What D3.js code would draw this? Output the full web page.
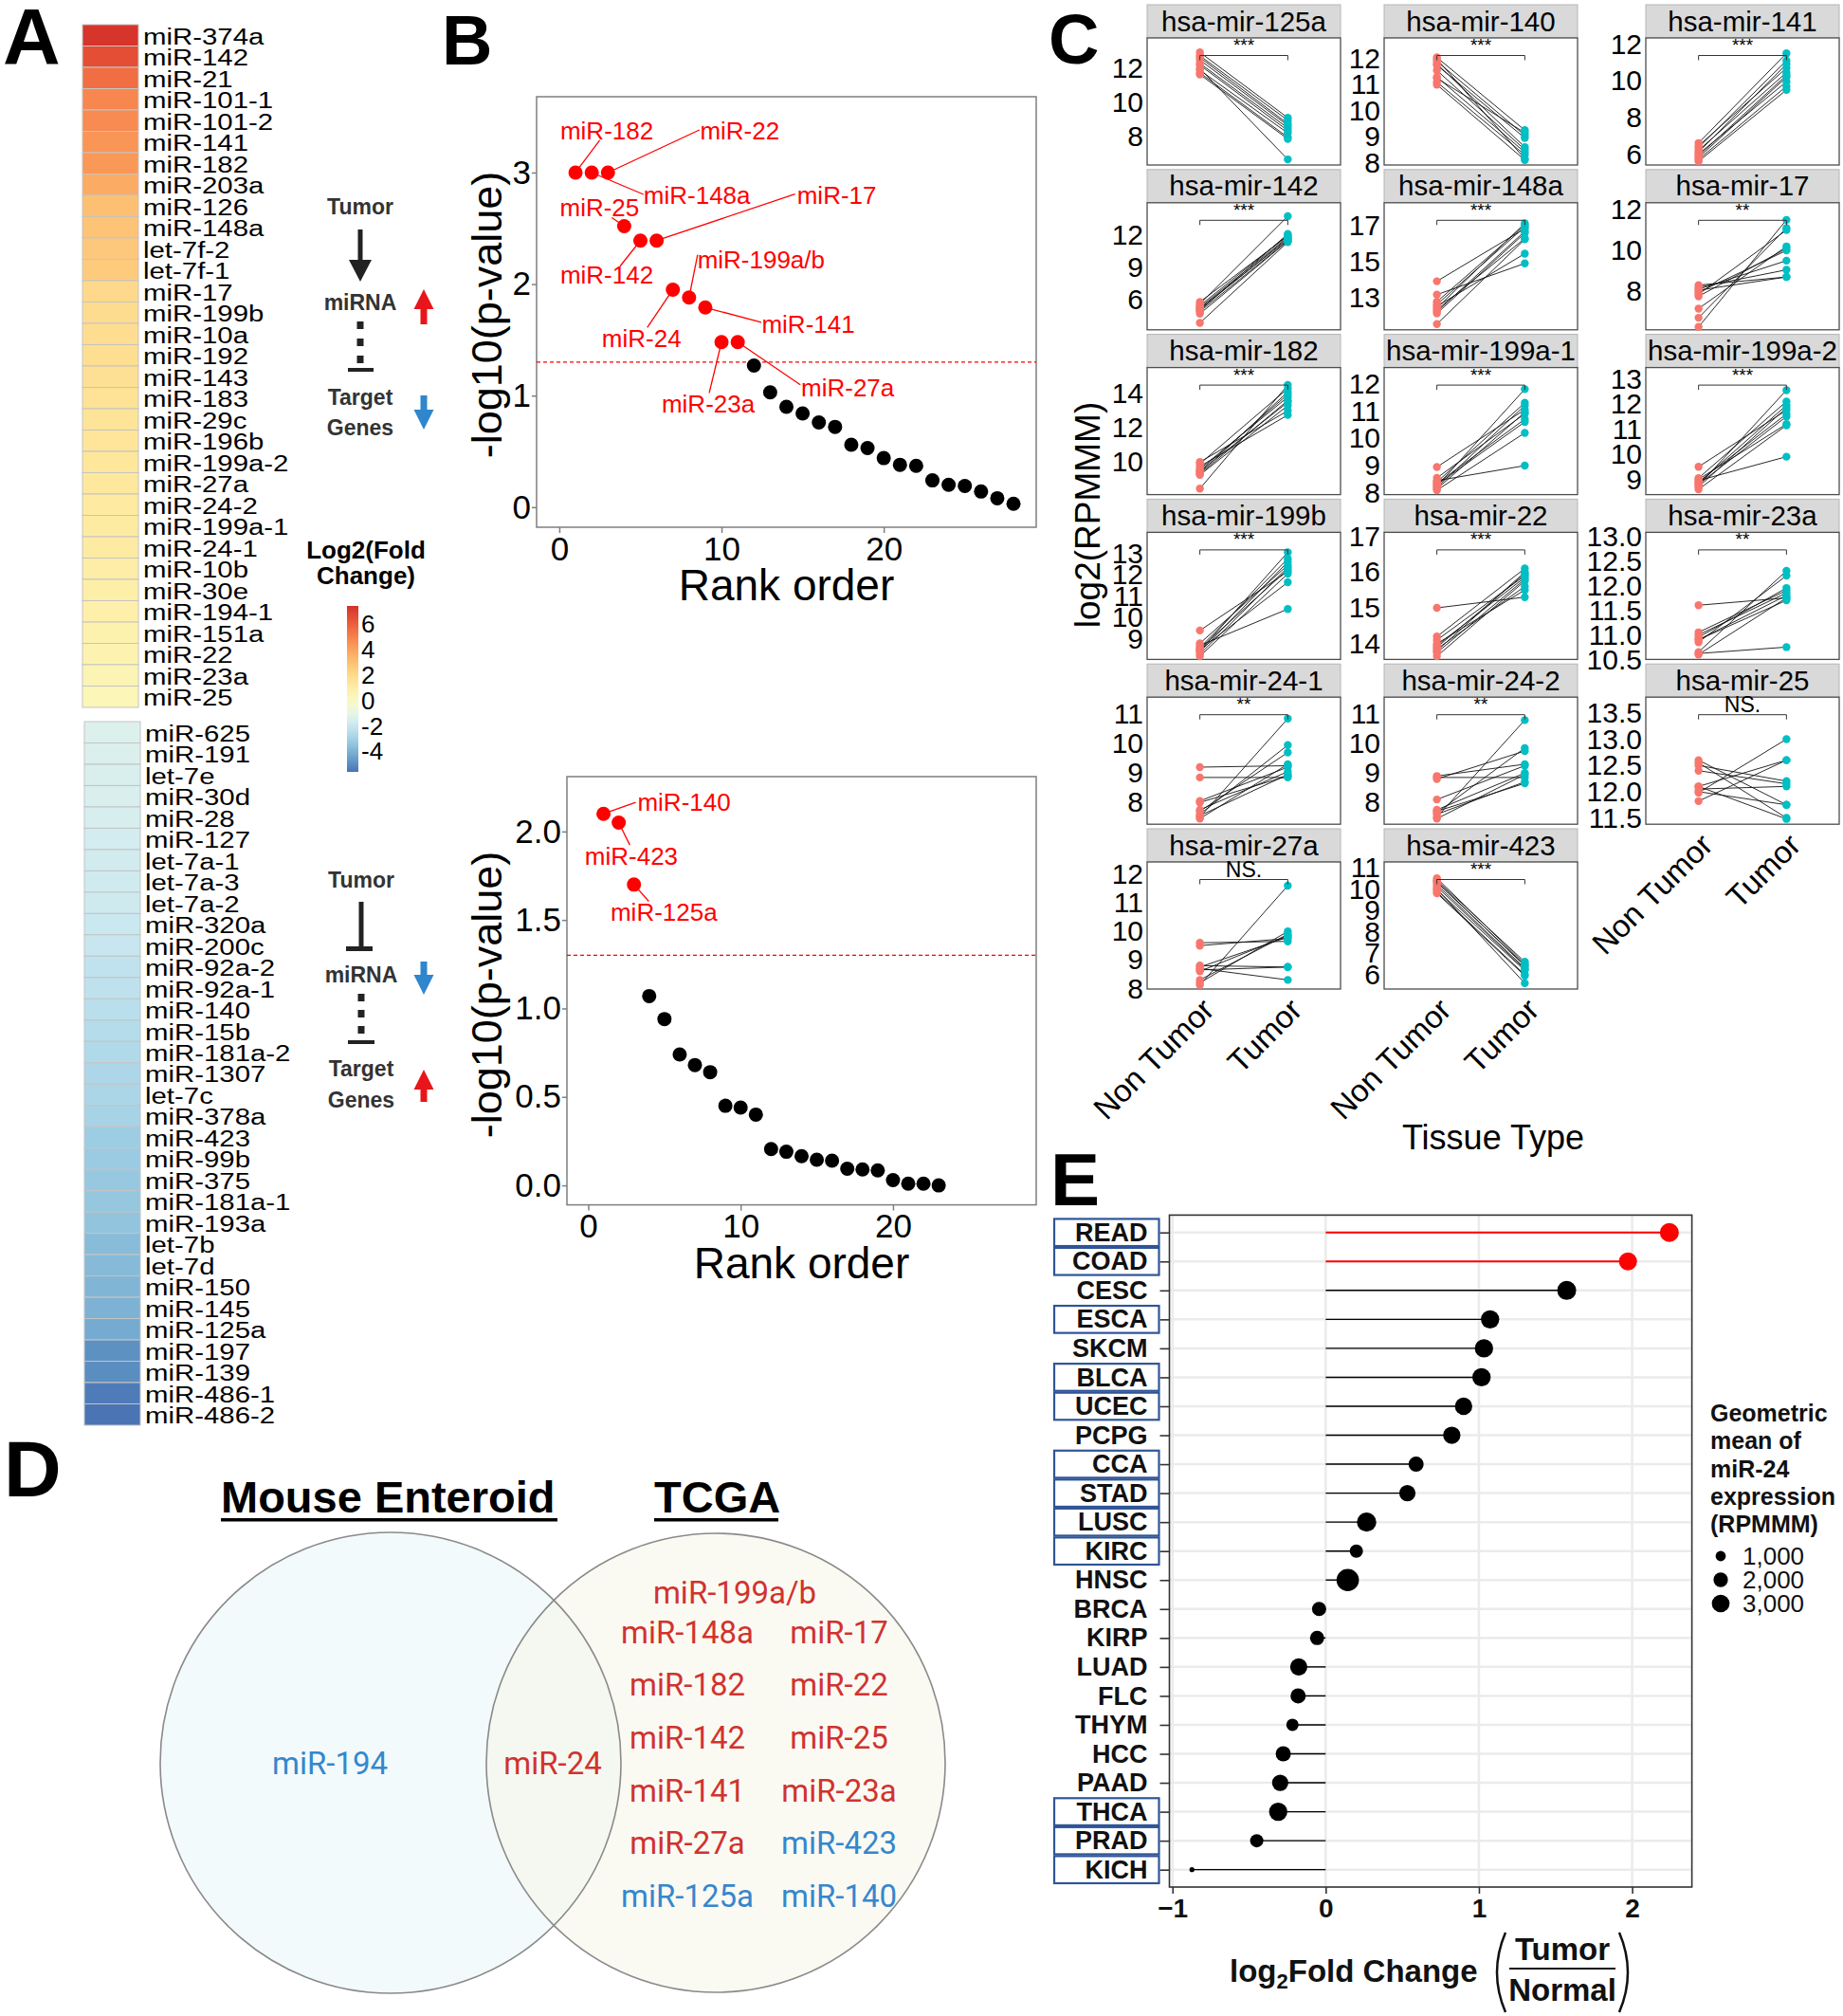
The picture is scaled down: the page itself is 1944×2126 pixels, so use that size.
<!DOCTYPE html>
<html><head><meta charset="utf-8">
<script src="https://cdn.jsdelivr.net/npm/d3@7"></script>
<style>body{margin:0;background:#fff}svg{display:block}</style>
</head><body>
<svg id="fig" width="1944" height="2126"></svg>
<script>
// ================= DATA =================
// Panel A heatmap
const heatUpLabels = ["miR-374a","miR-142","miR-21","miR-101-1","miR-101-2","miR-141","miR-182","miR-203a","miR-126","miR-148a","let-7f-2","let-7f-1","miR-17","miR-199b","miR-10a","miR-192","miR-143","miR-183","miR-29c","miR-196b","miR-199a-2","miR-27a","miR-24-2","miR-199a-1","miR-24-1","miR-10b","miR-30e","miR-194-1","miR-151a","miR-22","miR-23a","miR-25"];
const heatUpValues = [7.3,6.5,5.55,4.8,4.7,4.4,4.3,3.7,3.0,2.9,2.7,2.6,2.0,1.9,1.85,1.8,1.7,1.6,1.5,1.45,1.4,1.3,1.2,1.15,1.1,1.0,0.9,0.8,0.7,0.6,0.45,0.3];
const heatDownLabels = ["miR-625","miR-191","let-7e","miR-30d","miR-28","miR-127","let-7a-1","let-7a-3","let-7a-2","miR-320a","miR-200c","miR-92a-2","miR-92a-1","miR-140","miR-15b","miR-181a-2","miR-1307","let-7c","miR-378a","miR-423","miR-99b","miR-375","miR-181a-1","miR-193a","let-7b","let-7d","miR-150","miR-145","miR-125a","miR-197","miR-139","miR-486-1","miR-486-2"];
const heatDownValues = [-1.4,-1.45,-1.5,-1.55,-1.6,-1.7,-1.75,-1.8,-1.85,-1.95,-2.05,-2.25,-2.3,-2.4,-2.55,-2.65,-2.75,-2.8,-2.9,-3.15,-3.2,-3.3,-3.35,-3.45,-3.7,-3.75,-3.9,-4.0,-4.2,-4.9,-5.0,-5.4,-5.6];
const heatRange = [-5.6, 7.4];
const colorbarTicks = [6,4,2,0,-2,-4];

// Panel B rank plots
const rankUpValues = [3.0,3.0,3.0,2.52,2.39,2.39,1.95,1.88,1.79,1.48,1.48,1.27,1.03,0.90,0.84,0.76,0.72,0.56,0.53,0.44,0.38,0.37,0.24,0.20,0.19,0.14,0.08,0.03];
const rankUpLabels = ["miR-182","miR-148a","miR-22","miR-25","miR-142","miR-17","miR-24","miR-199a/b","miR-141","miR-23a","miR-27a"];
const rankDownValues = [2.10,2.05,1.70,1.07,0.94,0.74,0.68,0.64,0.45,0.44,0.40,0.205,0.19,0.165,0.145,0.14,0.094,0.09,0.085,0.03,0.01,0.01,0.0];
const rankDownLabels = ["miR-140","miR-423","miR-125a"];
const rankXTicks = [0,10,20];
const rankUpYTicks = [0,1,2,3];
const rankDownYTicks = [0,0.5,1.0,1.5,2.0];
const pThreshold = -Math.log10(0.05);

// Panel C paired plots
const tissueTypes = ["Non Tumor","Tumor"];
const pairedNames = ["hsa-mir-125a","hsa-mir-140","hsa-mir-141","hsa-mir-142","hsa-mir-148a","hsa-mir-17","hsa-mir-182","hsa-mir-199a-1","hsa-mir-199a-2","hsa-mir-199b","hsa-mir-22","hsa-mir-23a","hsa-mir-24-1","hsa-mir-24-2","hsa-mir-25","hsa-mir-27a","hsa-mir-423"];
const pairedSig = ["***","***","***","***","***","**","***","***","***","***","***","**","**","**","NS.","NS.","***"];
const pairedLimits = [[6.32,13.8],[7.91,12.8],[5.4,12.34],[3.21,15.0],[11.18,18.3],[6.11,12.34],[8.1,15.52],[7.94,12.59],[8.39,13.45],[8.05,13.98],[13.56,17.11],[10.5,13.08],[7.26,11.58],[7.26,11.58],[11.38,13.8],[7.98,12.43],[5.33,11.26]];
const pairedTicks = [[8,10,12],[8,9,10,11,12],[6,8,10,12],[6,9,12],[13,15,17],[8,10,12],[10,12,14],[8,9,10,11,12],[9,10,11,12,13],[9,10,11,12,13],[14,15,16,17],[10.5,11,11.5,12,12.5,13],[8,9,10,11],[8,9,10,11],[11.5,12,12.5,13,13.5],[8,9,10,11,12],[6,7,8,9,10,11]];
const pairedNonTumor = [
 [12.95,12.75,12.65,12.5,12.3,12.2,12.0,11.9,11.75,11.65],
 [12.05,11.98,11.9,11.8,11.75,11.55,11.3,11.25,11.1,11.0],
 [6.6,6.45,6.35,6.2,6.1,6.0,5.9,5.8,5.7,5.6],
 [5.8,5.6,5.45,5.3,5.2,5.1,5.0,4.9,4.7,3.85],
 [13.9,13.15,12.75,12.6,12.5,12.4,12.3,12.2,12.1,11.5],
 [8.3,8.2,8.1,8.05,7.95,7.85,7.75,7.15,6.7,6.25],
 [10.0,9.9,9.75,9.6,9.5,9.45,9.35,9.3,9.25,8.45],
 [8.95,8.55,8.45,8.4,8.35,8.3,8.25,8.2,8.15,8.1],
 [9.5,9.05,9.0,8.95,8.9,8.85,8.8,8.75,8.7,8.6],
 [9.4,8.8,8.7,8.6,8.55,8.5,8.45,8.4,8.3,8.2],
 [15.0,14.2,14.1,14.0,13.95,13.9,13.85,13.8,13.75,13.65],
 [11.6,11.05,11.0,10.95,10.9,10.9,10.85,10.65,10.62,10.6],
 [9.2,8.85,8.05,8.0,7.75,7.7,7.6,7.55,7.5,7.45],
 [8.9,8.85,8.8,8.1,7.75,7.7,7.65,7.6,7.5,7.45],
 [12.6,12.55,12.5,12.4,12.1,12.1,12.05,12.0,11.98,11.82],
 [9.6,9.5,8.8,8.75,8.7,8.65,8.6,8.3,8.2,8.12],
 [10.5,10.4,10.35,10.3,10.2,10.1,10.0,9.95,9.85,9.8]
];
const pairedTumor = [
 [9.1,8.95,8.75,8.65,8.5,8.35,6.65,8.2,7.95,7.85],
 [9.25,8.15,9.05,8.6,8.95,8.5,8.4,9.15,8.3,8.1],
 [11.5,10.7,11.1,10.45,10.9,9.95,10.3,10.2,9.7,9.5],
 [11.9,13.75,12.0,11.8,11.6,11.7,12.1,11.5,11.45,11.35],
 [16.85,14.9,17.05,16.95,15.45,17.15,16.3,16.7,16.6,16.25],
 [8.7,9.05,9.5,8.7,10.0,11.0,10.1,10.2,11.1,11.5],
 [13.0,14.3,12.75,13.8,13.95,13.5,14.1,13.6,13.3,14.5],
 [11.05,10.9,9.0,11.3,10.7,10.6,11.8,11.2,10.95,10.2],
 [11.75,12.1,11.2,9.9,11.6,11.95,11.5,12.55,11.85,11.15],
 [12.15,12.45,10.4,12.75,12.25,11.65,13.05,12.6,12.35,12.05],
 [15.3,16.1,15.9,15.5,15.85,15.95,15.6,16.0,15.8,15.75],
 [11.75,11.9,11.85,11.95,11.7,11.8,12.2,12.3,10.75,11.75],
 [9.25,8.85,9.2,8.9,9.05,9.7,9.95,8.95,10.85,9.3],
 [9.3,8.85,9.75,9.25,9.0,8.65,9.85,8.7,10.8,8.95],
 [11.75,11.5,12.2,12.15,11.48,12.6,12.1,11.75,13.0,12.6],
 [9.65,9.75,8.75,9.8,8.3,8.75,9.85,9.9,10.0,11.6],
 [6.5,6.6,6.4,6.45,6.3,6.25,5.6,6.2,6.0,5.95]
];

// Panel D Venn
const vennLeftOnly = ["miR-194"];
const vennShared = ["miR-24"];
const vennTcgaUp = ["miR-199a/b","miR-148a","miR-17","miR-182","miR-22","miR-142","miR-25","miR-141","miR-23a","miR-27a"];
const vennTcgaDown = ["miR-423","miR-125a","miR-140"];
const vennTitles = ["Mouse Enteroid","TCGA"];

// Panel E lollipop
const cancerTypes = ["READ","COAD","CESC","ESCA","SKCM","BLCA","UCEC","PCPG","CCA","STAD","LUSC","KIRC","HNSC","BRCA","KIRP","LUAD","FLC","THYM","HCC","PAAD","THCA","PRAD","KICH"];
const log2FC = [2.243,1.973,1.573,1.073,1.033,1.017,0.90,0.823,0.59,0.533,0.267,0.20,0.144,-0.043,-0.056,-0.176,-0.18,-0.217,-0.277,-0.297,-0.31,-0.45,-0.873];
const geoMeanExpr = [3430,3100,3430,3200,3200,3200,2870,2870,2200,2540,3570,1680,4780,1930,1930,2840,2200,1450,2200,2540,3200,1680,230];
const highlightTypes = ["READ","COAD"];
const boxedTypes = ["READ","COAD","ESCA","BLCA","UCEC","CCA","STAD","LUSC","KIRC","THCA","PRAD","KICH"];
const eXTicks = [-1,0,1,2];
const sizeLegendValues = [1000,2000,3000];

// ================= DRAWING =================
const svg = d3.select("#fig");
const SANS = "'Liberation Sans', Arial, Helvetica, sans-serif";
const RED = "#ff0000";

function txt(g, x, y, s, o = {}) {
  const t = g.append("text").attr("x", x).attr("y", y).text(s)
    .attr("font-family", o.family || SANS).attr("font-size", o.size || 20)
    .attr("font-weight", o.weight || "normal").attr("fill", o.fill || "#000")
    .attr("text-anchor", o.anchor || "start");
  if (o.rotate != null) t.attr("transform", `rotate(${o.rotate},${x},${y})`);
  return t;
}
function blockArrow(g, cx, tail, tip, headW, headH, shaftW, fill) {
  const dir = tip > tail ? 1 : -1;
  const hb = tip - dir * headH;
  const p = [[cx - shaftW / 2, tail], [cx + shaftW / 2, tail], [cx + shaftW / 2, hb], [cx + headW / 2, hb], [cx, tip], [cx - headW / 2, hb], [cx - shaftW / 2, hb]];
  g.append("path").attr("d", d3.line()(p) + "Z").attr("fill", fill);
}

// Panel letters
txt(svg, 3, 68, "A", {size: 84, weight: "bold"});
txt(svg, 466, 68, "B", {size: 74, weight: "bold"});
txt(svg, 1106, 67, "C", {size: 74, weight: "bold"});
txt(svg, 4, 1578, "D", {size: 84, weight: "bold"});
txt(svg, 1108, 1271, "E", {size: 78, weight: "bold"});

// ---------- Panel A ----------
const heatColor = d3.scaleDiverging([heatRange[0], 0, heatRange[1]], t => d3.interpolateRdYlBu(0.9 - 0.8 * t));
function heatBlock(labels, values, top, bottom, left, right, labelX) {
  const y = d3.scaleBand().domain(labels).range([top, bottom]);
  const g = svg.append("g");
  g.selectAll("rect").data(labels).join("rect")
    .attr("x", left).attr("y", d => y(d)).attr("width", right - left).attr("height", y.bandwidth())
    .attr("fill", (d, i) => heatColor(values[i])).attr("stroke", "#c4c4c4").attr("stroke-width", 1);
  const lg = g.append("g").attr("transform", `translate(${labelX},0) scale(1.25,1)`);
  lg.selectAll("text").data(labels).join("text")
    .attr("x", 0).attr("y", d => y(d) + y.bandwidth() / 2 + 9.5)
    .attr("font-family", SANS).attr("font-size", 23.5).attr("fill", "#000").text(d => d);
}
heatBlock(heatUpLabels, heatUpValues, 26, 746, 87, 146, 151);
heatBlock(heatDownLabels, heatDownValues, 761, 1503, 89, 148, 153);

// schematic legends
const legA = svg.append("g");
const LEGC = "#333";
txt(legA, 380, 226, "Tumor", {size: 23, weight: "bold", anchor: "middle", fill: LEGC});
blockArrow(legA, 380, 242, 297, 24, 23, 5, "#222");
txt(legA, 380, 327, "miRNA", {size: 23, weight: "bold", anchor: "middle", fill: LEGC});
blockArrow(legA, 447, 342, 305, 21, 21, 7, "#e8161b");
[343, 361, 379].forEach(c => legA.append("rect").attr("x", 376.5).attr("y", c - 4).attr("width", 7).attr("height", 8).attr("fill", "#222"));
legA.append("rect").attr("x", 367).attr("y", 388).attr("width", 27).attr("height", 4).attr("fill", "#222");
txt(legA, 380, 427, "Target", {size: 23, weight: "bold", anchor: "middle", fill: LEGC});
txt(legA, 380, 459, "Genes", {size: 23, weight: "bold", anchor: "middle", fill: LEGC});
blockArrow(legA, 447, 417, 453, 21, 21, 7, "#2f86cc");

txt(legA, 381, 936, "Tumor", {size: 23, weight: "bold", anchor: "middle", fill: LEGC});
legA.append("rect").attr("x", 378.5).attr("y", 951).attr("width", 5).attr("height", 48).attr("fill", "#222");
legA.append("rect").attr("x", 365).attr("y", 998).attr("width", 28).attr("height", 5).attr("fill", "#222");
txt(legA, 381, 1036, "miRNA", {size: 23, weight: "bold", anchor: "middle", fill: LEGC});
blockArrow(legA, 447, 1014, 1049, 21, 21, 7, "#2f86cc");
[1052, 1069, 1086].forEach(c => legA.append("rect").attr("x", 377.5).attr("y", c - 4).attr("width", 7).attr("height", 8).attr("fill", "#222"));
legA.append("rect").attr("x", 367).attr("y", 1097).attr("width", 28).attr("height", 4).attr("fill", "#222");
txt(legA, 381, 1135, "Target", {size: 23, weight: "bold", anchor: "middle", fill: LEGC});
txt(legA, 381, 1168, "Genes", {size: 23, weight: "bold", anchor: "middle", fill: LEGC});
blockArrow(legA, 447, 1162, 1128, 21, 21, 7, "#e8161b");

// colour bar
txt(legA, 386, 589, "Log2(Fold", {size: 26, weight: "bold", anchor: "middle"});
txt(legA, 386, 616, "Change)", {size: 26, weight: "bold", anchor: "middle"});
const cbY = d3.scaleLinear().domain(heatRange).range([814, 639]);
const grad = svg.append("defs").append("linearGradient").attr("id", "cbar").attr("x1", 0).attr("y1", 1).attr("x2", 0).attr("y2", 0);
d3.range(0, 1.0001, 0.05).forEach(t => {
  const v = heatRange[0] + t * (heatRange[1] - heatRange[0]);
  grad.append("stop").attr("offset", t).attr("stop-color", heatColor(v));
});
legA.append("rect").attr("x", 366).attr("y", 639).attr("width", 12).attr("height", 175).attr("fill", "url(#cbar)");
colorbarTicks.forEach(v => txt(legA, 381, cbY(v) + 9, String(v), {size: 26}));

// ---------- Panel B ----------
const rankUpLayout = {
  "miR-182": [33, -44, 25.5, -34], "miR-148a": [111, 24, 54.6, 23], "miR-22": [139, -44, 96.5, -45],
  "miR-25": [-26, -19.6, -13, -9], "miR-142": [-35.5, 36, -21.5, 27], "miR-17": [190, -48, 146, -49],
  "miR-24": [-33, 52, -27, 40], "miR-199a/b": [76, -40, 9, -45], "miR-141": [108.6, 17.5, 59, 15.5],
  "miR-23a": [-14, 65, -13, 53.6], "miR-27a": [116, 48, 66, 45]
};
const rankDownLayout = {
  "miR-140": [85, -12, 34, -12], "miR-423": [13.3, 35.5, 11.7, 23.6], "miR-125a": [31.6, 29.5, 15.6, 17.7]
};
function rankPanel(cfg) {
  const g = svg.append("g");
  const x = d3.scaleLinear().domain([-1.4, 29.4]).range([cfg.left, cfg.right]);
  const y = d3.scaleLinear().domain(cfg.yDomain).range([cfg.bottom, cfg.top]);
  const ax = g.append("g").attr("transform", `translate(0,${cfg.bottom})`)
    .call(d3.axisBottom(x).tickValues(rankXTicks).tickSize(6).tickPadding(4).tickFormat(d3.format("d")));
  const ay = g.append("g").attr("transform", `translate(${cfg.left},0)`)
    .call(d3.axisLeft(y).tickValues(cfg.yTicks).tickSize(5).tickPadding(1).tickFormat(cfg.fmt));
  [ax, ay].forEach(a => {
    a.attr("font-family", SANS).attr("font-size", 35);
    a.select(".domain").remove();
    a.selectAll("line").attr("stroke", "#7f7f7f").attr("stroke-width", 1.5);
    a.selectAll("text").attr("fill", "#000");
  });
  g.append("rect").attr("x", cfg.left).attr("y", cfg.top).attr("width", cfg.right - cfg.left)
    .attr("height", cfg.bottom - cfg.top).attr("fill", "none").attr("stroke", "#7f7f7f").attr("stroke-width", 1.5);
  g.append("line").attr("x1", cfg.left).attr("x2", cfg.right).attr("y1", y(pThreshold)).attr("y2", y(pThreshold))
    .attr("stroke", RED).attr("stroke-width", 1.2).attr("stroke-dasharray", "4,3");
  const pts = cfg.values.map((v, i) => ({r: i + 1, v, lab: cfg.labels[i]}));
  pts.filter(d => d.lab).forEach(d => {
    const L = cfg.layout[d.lab], px = x(d.r), py = y(d.v);
    g.append("line").attr("x1", px).attr("y1", py).attr("x2", px + L[2]).attr("y2", py + L[3])
      .attr("stroke", RED).attr("stroke-width", 1.3);
  });
  g.selectAll("circle.pt").data(pts).join("circle").attr("class", "pt")
    .attr("cx", d => x(d.r)).attr("cy", d => y(d.v)).attr("r", 7.5)
    .attr("fill", d => d.lab ? RED : "#000");
  pts.filter(d => d.lab).forEach(d => {
    const L = cfg.layout[d.lab];
    txt(g, x(d.r) + L[0], y(d.v) + L[1] + 9, d.lab, {size: 26, fill: RED, anchor: "middle"});
  });
  txt(g, (cfg.left + cfg.right) / 2, cfg.bottom + 77, "Rank order", {size: 46, anchor: "middle"});
  txt(g, 529, cfg.titleY, "-log10(p-value)", {size: 45, anchor: "middle", rotate: -90});
}
rankPanel({left: 566, right: 1093, top: 102, bottom: 556, yDomain: [-0.18, 3.68], yTicks: rankUpYTicks,
  fmt: d3.format("d"), values: rankUpValues, labels: rankUpLabels, layout: rankUpLayout, titleY: 332});
rankPanel({left: 598, right: 1093, top: 819, bottom: 1270.6, yDomain: [-0.11, 2.31], yTicks: rankDownYTicks,
  fmt: d3.format(".1f"), values: rankDownValues, labels: rankDownLabels, layout: rankDownLayout, titleY: 1049});

// ---------- Panel C ----------
const cCols = [1210, 1460, 1736], cW = 204, stripH = 35, panelH = 134, rowPitch = 173.8, cTop0 = 5;
const gC = svg.append("g");
pairedNames.forEach((name, i) => {
  const col = i % 3, row = Math.floor(i / 3);
  const x0 = cCols[col], st = cTop0 + row * rowPitch, pt = st + stripH, pb = pt + panelH;
  const g = gC.append("g");
  const x = d3.scalePoint().domain(tissueTypes).range([x0, x0 + cW]).padding(0.6);
  const y = d3.scaleLinear().domain(pairedLimits[i]).range([pb, pt]);
  g.append("rect").attr("x", x0).attr("y", st).attr("width", cW).attr("height", stripH)
    .attr("fill", "#d9d9d9").attr("stroke", "#b5b5b5").attr("stroke-width", 1);
  txt(g, x0 + cW / 2, st + 27.5, name, {size: 29.5, anchor: "middle"});
  g.append("rect").attr("x", x0).attr("y", pt).attr("width", cW).attr("height", panelH)
    .attr("fill", "#fff").attr("stroke", "#4d4d4d").attr("stroke-width", 1.3);
  const ticks = pairedTicks[i];
  const fmt = ticks.some(t => t % 1 !== 0) ? d3.format(".1f") : d3.format("d");
  const ay = g.append("g").attr("transform", `translate(${x0},0)`)
    .call(d3.axisLeft(y).tickValues(ticks).tickSize(0).tickPadding(4).tickFormat(fmt));
  ay.attr("font-family", SANS).attr("font-size", 30);
  ay.select(".domain").remove();
  ay.selectAll("text").attr("fill", "#000");
  const nt = pairedNonTumor[i], tu = pairedTumor[i];
  nt.forEach((v, j) => {
    g.append("line").attr("x1", x(tissueTypes[0])).attr("y1", y(v)).attr("x2", x(tissueTypes[1])).attr("y2", y(tu[j]))
      .attr("stroke", "#111").attr("stroke-width", 0.9);
  });
  g.selectAll("circle.nt").data(nt).join("circle").attr("class", "nt")
    .attr("cx", x(tissueTypes[0])).attr("cy", d => y(d)).attr("r", 4.2).attr("fill", "#f8766d");
  g.selectAll("circle.tu").data(tu).join("circle").attr("class", "tu")
    .attr("cx", x(tissueTypes[1])).attr("cy", d => y(d)).attr("r", 4.2).attr("fill", "#00bfc4");
  const by = pt + 18.5, xa = x(tissueTypes[0]), xb = x(tissueTypes[1]);
  g.append("path").attr("d", `M${xa},${by + 5}V${by}H${xb}V${by + 5}`).attr("fill", "none")
    .attr("stroke", "#333").attr("stroke-width", 1);
  if (pairedSig[i] === "NS.") txt(g, (xa + xb) / 2, pt + 16, "NS.", {size: 23, anchor: "middle"});
  else txt(g, (xa + xb) / 2, pt + 14, pairedSig[i], {size: 19, anchor: "middle"});
  const isBottom = (row === 5) || (row === 4 && col === 2);
  if (isBottom) {
    tissueTypes.forEach(tt => {
      const ax = x(tt) + 17, ay2 = pb + 24;
      txt(g, ax, ay2, tt, {size: 33, anchor: "end", rotate: -45});
    });
  }
});
txt(gC, 1160, 543, "log2(RPMMM)", {size: 37, anchor: "middle", rotate: -90});
txt(gC, 1575, 1212, "Tissue Type", {size: 36, anchor: "middle"});

// ---------- Panel D ----------
const gD = svg.append("g");
const VRED = "#d0332f", VBLUE = "#3587cd";
gD.append("circle").attr("cx", 412).attr("cy", 1859).attr("r", 243).attr("fill", "#f3fafb");
gD.append("circle").attr("cx", 755).attr("cy", 1859).attr("r", 242).attr("fill", "#f6f6ea").attr("fill-opacity", 0.55);
gD.append("circle").attr("cx", 412).attr("cy", 1859).attr("r", 243).attr("fill", "none").attr("stroke", "#8a8a8a").attr("stroke-width", 1.6);
gD.append("circle").attr("cx", 755).attr("cy", 1859).attr("r", 242).attr("fill", "none").attr("stroke", "#8a8a8a").attr("stroke-width", 1.6);
txt(gD, 233, 1595, vennTitles[0], {size: 47, weight: "bold"});
gD.append("rect").attr("x", 233).attr("y", 1601).attr("width", 355).attr("height", 3.5).attr("fill", "#000");
txt(gD, 690, 1595, vennTitles[1], {size: 47, weight: "bold"});
gD.append("rect").attr("x", 690).attr("y", 1601).attr("width", 131).attr("height", 3.5).attr("fill", "#000");
const VF = "Roboto, 'Noto Sans', sans-serif";
txt(gD, 348, 1871, vennLeftOnly[0], {size: 33, family: VF, fill: VBLUE, anchor: "middle"});
txt(gD, 583, 1871, vennShared[0], {size: 33, family: VF, fill: VRED, anchor: "middle"});
const tcgaAll = vennTcgaUp.map(s => ({s, c: VRED})).concat(vennTcgaDown.map(s => ({s, c: VBLUE})));
txt(gD, 775, 1691, tcgaAll[0].s, {size: 33, family: VF, fill: tcgaAll[0].c, anchor: "middle"});
const vRows = d3.scaleLinear().domain([0, 5]).range([1732.8, 2011]);
tcgaAll.slice(1).forEach((d, k) => {
  const r = Math.floor(k / 2), c = k % 2;
  txt(gD, c === 0 ? 725 : 885, vRows(r), d.s, {size: 33, family: VF, fill: d.c, anchor: "middle"});
});

// ---------- Panel E ----------
const gE = svg.append("g");
const eL = 1233.5, eR = 1784.6, eT = 1281.4, eB = 1990;
const eX = d3.scaleLinear().domain([-1.02, 2.39]).range([eL, eR]);
const eY = d3.scalePoint().domain(cancerTypes).range([eT, eB]).padding(0.6);
const eSize = d3.scaleSqrt().domain([0, 1000]).range([0, 5.4]);
gE.append("rect").attr("x", eL).attr("y", eT).attr("width", eR - eL).attr("height", eB - eT).attr("fill", "#fff");
eXTicks.forEach(t => gE.append("line").attr("x1", eX(t)).attr("x2", eX(t)).attr("y1", eT).attr("y2", eB).attr("stroke", "#ebebeb").attr("stroke-width", 2.5));
cancerTypes.forEach(c => gE.append("line").attr("x1", eL).attr("x2", eR).attr("y1", eY(c)).attr("y2", eY(c)).attr("stroke", "#ebebeb").attr("stroke-width", 2.5));
cancerTypes.forEach((c, i) => {
  const hi = highlightTypes.includes(c);
  gE.append("line").attr("x1", eX(0)).attr("x2", eX(log2FC[i])).attr("y1", eY(c)).attr("y2", eY(c))
    .attr("stroke", hi ? RED : "#000").attr("stroke-width", hi ? 2 : 1.4);
});
gE.selectAll("circle.lp").data(cancerTypes).join("circle").attr("class", "lp")
  .attr("cx", (c, i) => eX(log2FC[i])).attr("cy", c => eY(c)).attr("r", (c, i) => eSize(geoMeanExpr[i]))
  .attr("fill", c => highlightTypes.includes(c) ? RED : "#000");
gE.append("rect").attr("x", eL).attr("y", eT).attr("width", eR - eL).attr("height", eB - eT)
  .attr("fill", "none").attr("stroke", "#333").attr("stroke-width", 1.6);
const eax = gE.append("g").attr("transform", `translate(0,${eB})`)
  .call(d3.axisBottom(eX).tickValues(eXTicks).tickSize(7).tickPadding(5).tickFormat(d3.format("d")));
const eay = gE.append("g").attr("transform", `translate(${eL},0)`)
  .call(d3.axisLeft(eY).tickSize(10).tickPadding(13));
[eax, eay].forEach(a => {
  a.attr("font-family", SANS).attr("font-weight", "bold");
  a.select(".domain").remove();
  a.selectAll("line").attr("stroke", "#333").attr("stroke-width", 1.6);
  a.selectAll("text").attr("fill", "#111");
});
eax.attr("font-size", 28);
eay.attr("font-size", 27);
boxedTypes.forEach(c => gE.append("rect").attr("x", 1112).attr("y", eY(c) - 14.3).attr("width", 110.5).attr("height", 28.6)
  .attr("fill", "none").attr("stroke", "#2f5597").attr("stroke-width", 2.2));
const xt = gE.append("text").attr("x", 1297).attr("y", 2090).attr("font-family", SANS).attr("font-weight", "bold").attr("font-size", 33).attr("fill", "#111");
xt.append("tspan").text("log");
xt.append("tspan").attr("font-size", 22).attr("dy", 7).text("2");
xt.append("tspan").attr("dy", -7).text("Fold Change");
txt(gE, 1648, 2067, "Tumor", {size: 33, weight: "bold", anchor: "middle", fill: "#111"});
gE.append("line").attr("x1", 1592).attr("x2", 1704).attr("y1", 2076).attr("y2", 2076).attr("stroke", "#111").attr("stroke-width", 2);
txt(gE, 1648, 2110, "Normal", {size: 33, weight: "bold", anchor: "middle", fill: "#111"});
gE.append("path").attr("d", "M1588,2038 Q1570,2080 1588,2122").attr("fill", "none").attr("stroke", "#111").attr("stroke-width", 2.5);
gE.append("path").attr("d", "M1708,2038 Q1726,2080 1708,2122").attr("fill", "none").attr("stroke", "#111").attr("stroke-width", 2.5);
["Geometric", "mean of", "miR-24", "expression", "(RPMMM)"].forEach((s, k) =>
  txt(gE, 1804, 1499 + k * 29.3, s, {size: 25, weight: "bold", fill: "#111"}));
sizeLegendValues.forEach((v, k) => {
  const cy = 1641 + k * 25;
  gE.append("circle").attr("cx", 1815).attr("cy", cy).attr("r", eSize(v)).attr("fill", "#000");
  txt(gE, 1838, cy + 9, d3.format(",")(v), {size: 26, fill: "#111"});
});
</script>
</body></html>
